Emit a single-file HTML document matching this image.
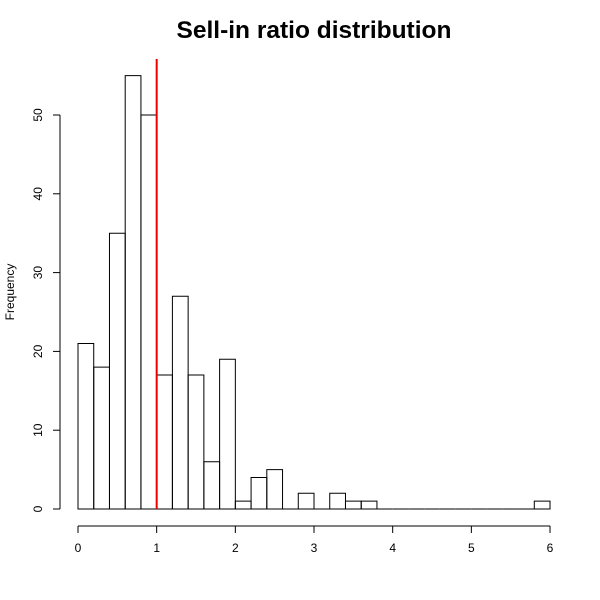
<!DOCTYPE html>
<html><head><meta charset="utf-8"><style>body{margin:0;background:#fff}svg{display:block;font-family:"Liberation Sans",sans-serif}</style></head>
<body>
<svg id="c" width="600" height="600">
<text x="314" y="38" text-anchor="middle" font-size="24.5" font-weight="bold">Sell-in ratio distribution</text>
<text transform="translate(14,292) rotate(-90)" text-anchor="middle" font-size="12">Frequency</text>
<g id="bars"></g><g id="xa"></g><g id="ya"></g>
</svg>
<script>
const binStart=0, binWidth=0.2;
const counts=[21,18,35,55,50,17,27,17,6,19,1,4,5,0,2,0,2,1,1,0,0,0,0,0,0,0,0,0,0,1];
const xTicks=[0,1,2,3,4,5,6];
const yTicks=[0,10,20,30,40,50];
const refLine=1;
const X=v=>78+v*78.67, Y=v=>509-v*7.88;
const ns="http://www.w3.org/2000/svg";
function mk(p,t,a){const e=document.createElementNS(ns,t);for(const k in a)e.setAttribute(k,a[k]);document.getElementById(p).appendChild(e);return e;}
counts.forEach((c,i)=>{const x0=X(binStart+i*binWidth),x1=X(binStart+(i+1)*binWidth),y0=Y(0),y1=Y(c);
const r=mk('bars','path',{d:`M${x0},${y0}L${x0},${y1}L${x1},${y1}L${x1},${y0}Z`,fill:'none',stroke:'#000','stroke-width':1});

});
const rl=mk('bars','line',{x1:X(refLine),x2:X(refLine),y1:59,y2:509,stroke:'#e00','stroke-width':2});


mk('xa','line',{x1:X(xTicks[0]),x2:X(xTicks[xTicks.length-1]),y1:526,y2:526,stroke:'#000'});
xTicks.forEach(t=>{mk('xa','line',{x1:X(t),x2:X(t),y1:526,y2:533,stroke:'#000'});
const tx=mk('xa','text',{x:X(t),y:552,'text-anchor':'middle','font-size':12});tx.textContent=t;

});
mk('ya','line',{x1:60,x2:60,y1:Y(yTicks[0]),y2:Y(yTicks[yTicks.length-1]),stroke:'#000'});
yTicks.forEach(t=>{mk('ya','line',{x1:53,x2:60,y1:Y(t),y2:Y(t),stroke:'#000'});
const tx=mk('ya','text',{transform:`translate(42,${Y(t)}) rotate(-90)`,'text-anchor':'middle','font-size':12});tx.textContent=t;

});
</script>
</body></html>
